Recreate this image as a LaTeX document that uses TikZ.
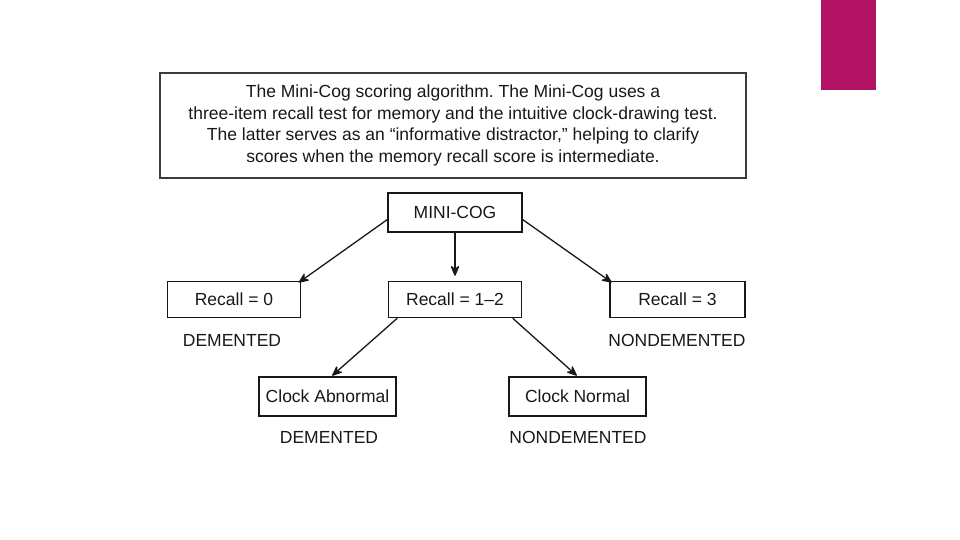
\documentclass[tikz,border=0pt]{standalone}
\usepackage{fontspec}
\setmainfont{Liberation Sans}
\usepackage{xcolor}
\usetikzlibrary{positioning,arrows.meta}
\definecolor{slidemagenta}{RGB}{178,18,100}
\definecolor{ink}{RGB}{24,24,24}
\frenchspacing
\begin{document}
\begin{tikzpicture}[x=1pt, y=-1pt, main/.style = {rectangle, draw=ink, line width=1.5pt, minimum width=133pt, minimum height=36pt, inner sep=0pt, text=ink, font=\fontsize{17.5}{21}\selectfont}, verdict/.style = {inner sep=0pt, text=ink, font=\fontsize{17.5}{21}\selectfont}, every edge/.append style={draw=ink, line width=1.3pt, -{Stealth[round, length=12pt, width=10pt]}}]

\useasboundingbox (0,0) rectangle (960,540);
\fill[slidemagenta] (821,0) rectangle (876,90);

\node[draw=ink!85, line width=1.8pt, minimum width=586pt, minimum height=105pt, align=center, text=ink, font=\fontsize{17.5}{21.8}\selectfont] (cap) at (453,125.5) {The Mini-Cog scoring algorithm. The Mini-Cog uses a\\three-item recall test for memory and the intuitive clock-drawing test.\\The latter serves as an “informative distractor,” helping to clarify\\scores when the memory recall score is intermediate.};

\node[main, minimum width=134pt, minimum height=39pt] (m) at (455,212.5) {MINI-COG};
\node[main] (r0) at (234,299.5) {Recall = 0};
\node[main] (r12) at (455,299.5) {Recall = 1–2};
\node[main, minimum width=135pt] (r3) at (677.5,299.5) {Recall = 3};
\node[main, minimum width=137pt, minimum height=39pt] (ca) at (327.5,396.5) {Clock Abnormal};
\node[main, minimum width=137pt, minimum height=39pt] (cn) at (577.5,396.5) {Clock Normal};

\node[verdict] (d0) at (232,340) {DEMENTED};
\node[verdict] (n3) at (677,340) {NONDEMENTED};
\node[verdict] (dca) at (329,437) {DEMENTED};
\node[verdict] (ncn) at (578,437) {NONDEMENTED};

\path
 (m.186) edge[shorten >=-3pt] (r0.north east)
 (m) edge[shorten >=5pt] (r12)
 (m.354) edge[shorten >=-3pt] (r3.north west)
 (r12.198) edge[shorten >=1pt] ([xshift=4pt]ca.north)
 (r12.342) edge[shorten >=1pt] (cn.north);
\end{tikzpicture}
\end{document}
